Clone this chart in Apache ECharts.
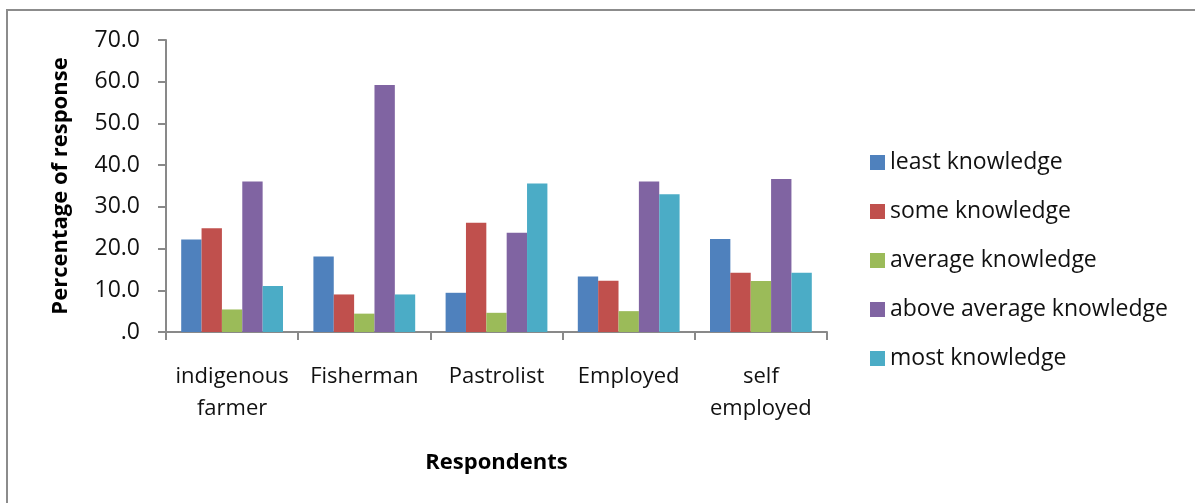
<!DOCTYPE html>
<html>
<head>
<meta charset="utf-8">
<script src="https://cdn.jsdelivr.net/npm/echarts@6/dist/echarts.min.js"></script>
<style>
html,body{margin:0;padding:0;background:#fff;}
#chart{width:1195px;height:503px;}
</style>
</head>
<body>
<div id="chart"></div>
<script>
const categories = ['indigenous\nfarmer', 'Fisherman', 'Pastrolist', 'Employed', 'self\nemployed'];
const seriesNames = ['least knowledge', 'some knowledge', 'average knowledge', 'above average knowledge', 'most knowledge'];
const leastKnowledge = [22.2, 18.1, 9.4, 13.3, 22.3];
const someKnowledge = [24.9, 9.0, 26.2, 12.3, 14.2];
const averageKnowledge = [5.4, 4.4, 4.6, 5.0, 12.2];
const aboveAverageKnowledge = [36.1, 59.2, 23.8, 36.1, 36.7];
const mostKnowledge = [11.0, 9.0, 35.6, 33.0, 14.2];
const colors = ['#4F81BD', '#C0504D', '#9BBB59', '#8064A2', '#4BACC6'];

const allValues = [leastKnowledge, someKnowledge, averageKnowledge, aboveAverageKnowledge, mostKnowledge];
const font = '"Open Sans", "Noto Sans", sans-serif';
const axisGray = '#898989';

const chart = echarts.init(document.getElementById('chart'), null, {renderer: 'canvas'});
chart.setOption({
  animation: false,
  backgroundColor: '#fff',
  color: colors,
  textStyle: {fontFamily: font},
  graphic: [{
    type: 'rect',
    shape: {x: 7, y: 10, width: 1300, height: 600},
    style: {fill: 'none', stroke: '#8c8c8c', lineWidth: 2},
    silent: true
  }],
  grid: {left: 166, right: 368, top: 40, bottom: 171, containLabel: false},
  legend: {
    orient: 'vertical',
    left: 870,
    top: 151,
    padding: 0,
    icon: 'rect',
    itemWidth: 15,
    itemHeight: 15,
    itemGap: 26,
    itemTextGap: 7,
    textStyle: {fontFamily: font, fontSize: 23, color: '#111', lineHeight: 22, padding: [0,0,0,0]},
    data: seriesNames
  },
  xAxis: {
    type: 'category',
    data: categories,
    name: 'Respondents',
    nameLocation: 'middle',
    nameGap: 120,
    nameTextStyle: {fontFamily: font, fontSize: 22, fontWeight: 'bold', color: '#000'},
    axisLine: {lineStyle: {color: axisGray, width: 2}},
    axisTick: {show: true, length: 8, lineStyle: {color: axisGray, width: 2}},
    axisLabel: {fontFamily: font, fontSize: 22, color: '#111', margin: 29, lineHeight: 32, interval: 0}
  },
  yAxis: {
    type: 'value',
    min: 0,
    max: 70,
    interval: 10,
    name: 'Percentage of response',
    nameLocation: 'middle',
    nameGap: 94,
    nameRotate: 90,
    nameTextStyle: {fontFamily: font, fontSize: 22, fontWeight: 'bold', color: '#000'},
    splitLine: {show: false},
    axisLine: {show: true, lineStyle: {color: axisGray, width: 2}},
    axisTick: {show: true, length: 8, lineStyle: {color: axisGray, width: 2}},
    axisLabel: {
      fontFamily: font, fontSize: 23, color: '#111', margin: 26,
      formatter: v => v === 0 ? '.0' : v.toFixed(1)
    }
  },
  series: seriesNames.map((n, i) => ({
    name: n,
    type: 'bar',
    data: allValues[i],
    barGap: '0%',
    barCategoryGap: '23%',
    itemStyle: {color: colors[i]}
  }))
});
</script>
</body>
</html>
